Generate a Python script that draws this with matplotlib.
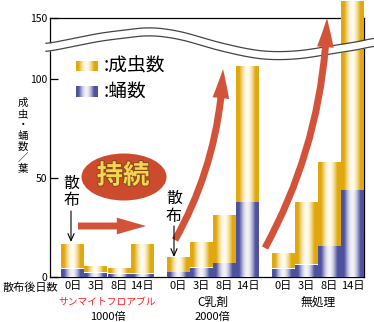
import numpy as np
import matplotlib
matplotlib.use("Agg")
import matplotlib.pyplot as plt
from matplotlib.patches import Ellipse, FancyArrowPatch, ArrowStyle
import matplotlib.patheffects as pe

plt.rcParams['font.family'] = ['Noto Sans CJK JP', 'DejaVu Sans']

# data
days = ['0日', '3日', '8日', '14日']
group_names = ['サンマイトフロアブル', 'C乳剤', '無処理']
group_rates = ['1000倍', '2000倍', '']
pupa = [[4.5, 2.5, 2.0, 2.0],
        [2.7, 5.0, 7.2, 38.0],
        [4.4, 6.4, 15.7, 44.0]]
adult = [[12.2, 3.1, 3.0, 15.0],
         [7.9, 12.8, 24.6, 69.0],
         [7.9, 31.6, 42.9, 126.0]]
yticks = [0, 50, 100, 150]

W, H = 374, 322
GAP = 4.55          # distance between group starts (bar units)

# broken y axis: linear up to B, compressed above
B, R = 115.0, 0.45


def fwd(y):
    y = np.asarray(y, dtype=float)
    return np.where(y <= B, y, B + (y - B) * R)


def inv(y):
    y = np.asarray(y, dtype=float)
    return np.where(y <= B, y, B + (y - B) / R)


def px(x, y):
    # pixel position -> figure fraction
    return x / W, 1 - y / H


def gradient(dark, light, n=64):
    t = np.linspace(0, 1, n)
    w = np.clip(1 - ((t - 0.47) / 0.37) ** 2, 0, 1) ** 1.3
    d = np.array(matplotlib.colors.to_rgb(dark))
    l = np.array(matplotlib.colors.to_rgb(light))
    return (d[None, :] * (1 - w[:, None]) + l[None, :] * w[:, None])[None, :, :]


yellow = gradient('#e0a80c', '#fffcee')
blue = gradient('#4e519e', '#f2f2f8')


def grad_bar(ax, x, bottom, height, img):
    rect = ax.bar(x, height, width=1.0, bottom=bottom, color='none',
                  linewidth=0, zorder=3, clip_on=False)[0]
    im = ax.imshow(img, extent=(x - 0.5, x + 0.5, bottom, bottom + height),
                   aspect='auto', interpolation='bilinear', zorder=3)
    im.set_clip_path(rect)


fig = plt.figure(figsize=(W / 100, H / 100), dpi=100)
ax = fig.add_axes([50 / W, 45 / H, 314 / W, 259 / H])
ax.set_yscale('function', functions=(fwd, inv))

xpos = []
for g in range(len(group_names)):
    for i in range(len(days)):
        x = g * GAP + i
        xpos.append(x)
        grad_bar(ax, x, 0, pupa[g][i], blue)
        grad_bar(ax, x, pupa[g][i], adult[g][i], yellow)

ax.set_yticks(yticks)
ax.set_yticklabels([str(v) for v in yticks], fontsize=7.5)
ax.tick_params(axis='y', direction='in', length=6, width=0.9, pad=2)
ax.set_xticks(xpos)
ax.set_xticklabels(days * len(group_names), fontsize=8)
ax.tick_params(axis='x', length=0, pad=3)
ax.minorticks_off()
for s in ax.spines.values():
    s.set_linewidth(0.9)

# group labels
for g, (name, rate) in enumerate(zip(group_names, group_rates)):
    cx = g * GAP + 1.5
    ax.text(cx, -0.097, name, transform=ax.get_xaxis_transform(),
            ha='center', va='center', fontsize=7 if g == 0 else 8.5,
            color='#ff2020' if g == 0 else 'black')
    if rate:
        ax.text(cx, -0.154, rate, transform=ax.get_xaxis_transform(),
                ha='center', va='center', fontsize=8)

fig.text(*px(30, 288), '散布後日数', ha='center', va='center', fontsize=8)

# y label, stacked characters
for k, ch in enumerate('成虫・蛹数／葉'):
    fig.text(*px(23, 103 + k * 11), ch, ha='center', va='center', fontsize=7.5)

# legend
for (y0, y1), img, lab in [((61, 71), yellow, ':成虫数'), ((86, 97), blue, ':蛹数')]:
    ax.imshow(img, extent=((76 - 50) / 314, (98 - 50) / 314,
                           (277 - y1) / 259, (277 - y0) / 259),
              transform=ax.transAxes, aspect='auto', interpolation='bilinear',
              zorder=4)
    fig.text(*px(104, (y0 + y1) / 2), lab, ha='left', va='center', fontsize=13.5)
ax.set_xlim(-0.99, 2 * GAP + 3 + 0.49)
ax.set_ylim(0, 150)

# axis break band
bx = np.array([46, 100, 150, 180, 213, 247, 270, 300, 330, 363, 376])
by = np.array([44, 33, 27, 31, 41, 49, 52, 51, 46, 41, 37])
xs = np.linspace(bx[0], bx[-1], 300)
ys = np.interp(xs, bx, by)
k = np.ones(25) / 25
ys = np.convolve(np.pad(ys, 12, mode='edge'), k, mode='valid')
fx, fy = (xs - 50) / 314, (277 - ys) / 259
off = 8 / 259
ax.fill_between(fx, fy - off, fy, color='white', transform=ax.transAxes,
                zorder=5, clip_on=False, linewidth=0)
ax.plot(fx, fy, color='#444444', lw=0.9, transform=ax.transAxes,
        zorder=6, clip_on=False)
ax.plot(fx, fy - off, color='#444444', lw=0.9, transform=ax.transAxes,
        zorder=6, clip_on=False)

# "持続" badge
red = '#cc4b2e'
fig.add_artist(Ellipse(px(124, 177), 85 / W, 47 / H, transform=fig.transFigure,
                       facecolor=red, edgecolor='none', zorder=5))
fig.text(*px(123, 176), '持続', ha='center', va='center', fontsize=19,
         weight='bold', color='#f4d64e', zorder=6,
         path_effects=[pe.withStroke(linewidth=1.5, foreground='#8a4a22')])

# red arrows
big = ArrowStyle('simple', head_length=21, head_width=12, tail_width=5)
for a, b, rad in [((78, 226), (146, 226), 0.0),
                  ((175, 240), (223, 69), 0.12),
                  ((265, 248), (327, 18), 0.12)]:
    fig.add_artist(FancyArrowPatch(px(*a), px(*b), transform=fig.transFigure,
                                   arrowstyle=big, mutation_scale=1,
                                   connectionstyle=f'arc3,rad={rad}',
                                   shrinkA=0, shrinkB=0, color='#d2533a',
                                   linewidth=0, zorder=7))

# "散布" markers
thin = ArrowStyle('->', head_length=0.5, head_width=0.22)
for x, ytop in [(71, 183), (174, 198)]:
    for k2, ch in enumerate('散布'):
        fig.text(*px(x, ytop + k2 * 18), ch, ha='center', va='center',
                 fontsize=11.5)
    fig.add_artist(FancyArrowPatch(px(x, ytop + 28), px(x, ytop + 59),
                                   transform=fig.transFigure, arrowstyle=thin,
                                   mutation_scale=10, shrinkA=0, shrinkB=0,
                                   color='black', linewidth=0.8, zorder=7))

fig.savefig('out.png', dpi=100)
